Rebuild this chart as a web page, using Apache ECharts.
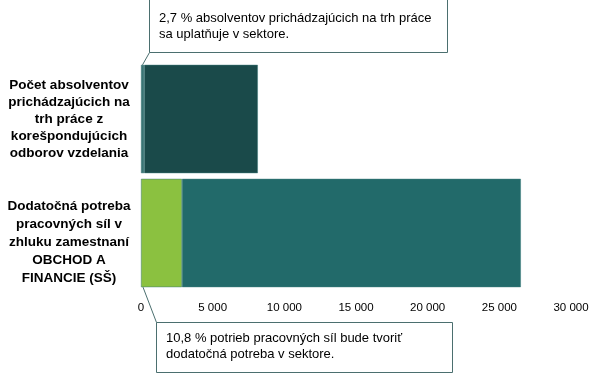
<!DOCTYPE html>
<html><head><meta charset="utf-8">
<script src="https://cdn.jsdelivr.net/npm/echarts@6/dist/echarts.min.js"></script>
<style>html,body{margin:0;padding:0;background:#fff}#c{width:605px;height:375px}</style>
</head><body><div id="c"></div>
<script>
var categories = [
  'Počet absolventov\nprichádzajúcich na\ntrh práce z\nkorešpondujúcich\nodborov vzdelania',
  'Dodatočná potreba\npracovných síl v\nzhluku zamestnaní\nOBCHOD A\nFINANCIE (SŠ)'
];
var sectorPart = [220, 2860];
var restPart = [7930, 23640];
var sectorColors = ['#3a7474', '#8bc140'];
var restColors = ['#1a4a4a', '#226a6a'];
var note1 = '2,7 % absolventov prichádzajúcich na trh práce\nsa uplatňuje v sektore.';
var note2 = '10,8 % potrieb pracovných síl bude tvoriť\ndodatočná potreba v sektore.';

var chart = echarts.init(document.getElementById('c'), null, {renderer: 'canvas'});
var fontFam = '"Liberation Sans", Arial, sans-serif';
var lineHeights = [17, 18];
var leadBreak = ['', '\n'];
chart.setOption({
  animation: false,
  grid: {left: 141, right: 34, top: 62, bottom: 85},
  xAxis: {
    type: 'value', min: 0, max: 30000, interval: 5000,
    axisLine: {show: false}, axisTick: {show: false}, splitLine: {show: false},
    axisLabel: {
      color: '#000', fontFamily: fontFam, fontSize: 11.5, margin: 12,
      formatter: function (v) { return String(v).replace(/\B(?=(\d{3})+(?!\d))/g, ' '); }
    }
  },
  yAxis: {
    type: 'category', inverse: true,
    data: categories.map(function (c, i) {
      return {value: leadBreak[i] + c, textStyle: {
        color: '#000', fontFamily: fontFam, fontSize: 13.5, fontWeight: 'bold',
        align: 'center', lineHeight: lineHeights[i]
      }};
    }),
    axisLine: {show: false}, axisTick: {show: false},
    axisLabel: {
      color: '#000', fontFamily: fontFam, fontSize: 13.5, fontWeight: 'bold',
      align: 'center', margin: 72, lineHeight: 17
    }
  },
  series: [
    {type: 'bar', stack: 's', barCategoryGap: '5%',
     data: sectorPart.map(function (v, i) { return {value: v, itemStyle: {color: sectorColors[i]}}; }),
     itemStyle: {borderColor: '#3d7a7a', borderWidth: 0.5}},
    {type: 'bar', stack: 's', barCategoryGap: '5%',
     data: restPart.map(function (v, i) { return {value: v, itemStyle: {color: restColors[i]}}; }),
     itemStyle: {borderColor: '#3d7a7a', borderWidth: 0.5}}
  ]
});

// callout anchors derived from the bars through the axes
var yTop = chart.convertToPixel({yAxisIndex: 0}, 0);
var yBot = chart.convertToPixel({yAxisIndex: 0}, 1);
var x0 = chart.convertToPixel({xAxisIndex: 0}, 0);
var bandHalf = (yBot - yTop) / 2 * 0.95;
var textStyle = {fill: '#000', font: '13px ' + fontFam, lineHeight: 16.5};
chart.setOption({
  graphic: [
    {type: 'rect', shape: {x: 149.5, y: -1.5, width: 298, height: 54}, style: {fill: '#fff', stroke: '#4b6f6f', lineWidth: 1}, z: 100},
    {type: 'text', x: 159, y: 10, style: Object.assign({text: note1}, textStyle), z: 101},
    {type: 'line', shape: {x1: 149.5, y1: 52.5, x2: x0 + 1.5, y2: yTop - bandHalf}, style: {stroke: '#4b6f6f', lineWidth: 1}, z: 100},
    {type: 'rect', shape: {x: 156.5, y: 322.5, width: 296, height: 50}, style: {fill: '#fff', stroke: '#4b6f6f', lineWidth: 1}, z: 100},
    {type: 'text', x: 166, y: 330, style: Object.assign({text: note2}, textStyle), z: 101},
    {type: 'line', shape: {x1: 156.5, y1: 322.5, x2: x0 + 2, y2: yBot + bandHalf}, style: {stroke: '#4b6f6f', lineWidth: 1}, z: 100}
  ]
});
</script></body></html>
